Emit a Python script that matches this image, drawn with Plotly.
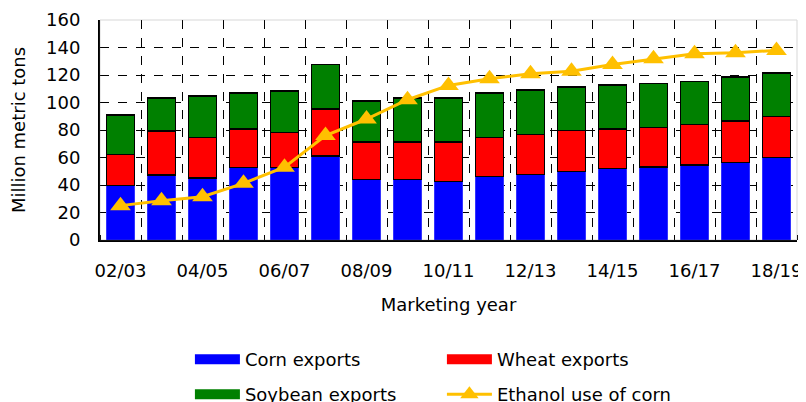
import plotly.graph_objects as go

years = ["02/03", "03/04", "04/05", "05/06", "06/07", "07/08", "08/09", "09/10", "10/11",
         "11/12", "12/13", "13/14", "14/15", "15/16", "16/17", "17/18", "18/19"]

# segment sizes of the stacked bars
corn = [39.5, 47.3, 45.2, 52.9, 52.9, 61.2, 43.9, 43.9, 42.7,
        46.3, 47.6, 49.7, 51.9, 53.2, 54.6, 56.5, 59.9]
wheat = [22.6, 32.1, 29.5, 27.7, 25.2, 34.2, 27.5, 27.5, 28.7,
         28.4, 29.3, 29.9, 28.7, 28.6, 29.4, 29.9, 29.9]
soybean = [28.9, 24.0, 29.9, 26.2, 30.1, 32.1, 29.8, 32.0, 32.0,
           32.1, 32.3, 31.8, 32.0, 32.0, 31.1, 32.0, 31.8]
ethanol = [25.0, 28.6, 31.5, 41.2, 52.9, 76.0, 88.0, 102.0, 112.4,
           117.3, 120.9, 122.8, 127.7, 131.8, 135.5, 136.2, 137.9]

tick_labels = years[::2]

FONT = "DejaVu Sans, Arial, sans-serif"
BLUE, RED, GREEN, GOLD = "#0000FF", "#FF0000", "#008000", "#FFC000"
x = list(range(len(years)))

fig = go.Figure()
fig.add_trace(go.Bar(
    x=x, y=corn, name="Corn exports", showlegend=False,
    marker=dict(color=BLUE, line=dict(color="#6666FF", width=0.5)),
))
fig.add_trace(go.Bar(
    x=x, y=wheat, name="Wheat exports", showlegend=False,
    marker=dict(color=RED, line=dict(color="black", width=1.5)),
))
fig.add_trace(go.Bar(
    x=x, y=soybean, name="Soybean exports", showlegend=False,
    marker=dict(color=GREEN, line=dict(color="black", width=1.5)),
))
fig.add_trace(go.Scatter(
    x=x, y=ethanol, name="Ethanol use of corn", mode="lines+markers",
    legend="legend2", legendrank=2000,
    line=dict(color=GOLD, width=3),
    marker=dict(symbol="triangle-up", size=18, color=GOLD),
))

# legend entries drawn as wide swatches, like the original
for name, color, leg in [("Corn exports", BLUE, "legend"),
                         ("Wheat exports", RED, "legend"),
                         ("Soybean exports", GREEN, "legend2")]:
    fig.add_trace(go.Scatter(
        x=[None], y=[None], name=name, mode="lines", legend=leg,
        legendrank=1000, line=dict(color=color, width=10),
    ))

legend_style = dict(
    orientation="h", x=0.129, xanchor="left", yref="container", yanchor="top",
    entrywidth=192, entrywidthmode="pixels", traceorder="normal",
    font=dict(size=18), itemwidth=45, bgcolor="rgba(0,0,0,0)",
)

# the page is drawn with an 8px body margin, so the figure is 8px smaller
fig.update_layout(
    width=798, height=394,
    barmode="stack", bargap=0.31,
    template="simple_white",
    font=dict(family=FONT, size=18, color="black"),
    margin=dict(l=92, r=9, t=12, b=162),
    plot_bgcolor="white", paper_bgcolor="white",
    legend=dict(legend_style, y=0.155),
    legend2=dict(legend_style, y=0.066),
    xaxis=dict(
        range=[-0.5, len(years) - 0.5],
        tickmode="array", tickvals=x[::2], ticktext=tick_labels,
        ticks="", showgrid=False, showline=True, linecolor="black", linewidth=2,
        ticklabelstandoff=13, ticklabeloverflow="allow", automargin=False,
        minor=dict(tick0=0.5, dtick=1, showgrid=True, griddash="dash",
                   gridcolor="black", gridwidth=1, ticks="inside", ticklen=5,
                   tickcolor="black"),
        title=dict(text="Marketing year", font=dict(size=18), standoff=19),
    ),
    yaxis=dict(
        range=[0, 160], dtick=20, ticks="", showgrid=True, griddash="dash",
        gridcolor="black", gridwidth=1, showline=True, linecolor="black",
        linewidth=2, ticklabelstandoff=14, automargin=False,
        title=dict(text="Million metric tons", font=dict(size=18), standoff=16),
    ),
)

# thin grey frame around the plot area
fig.add_shape(type="rect", xref="paper", yref="paper", x0=0, y0=0, x1=1, y1=1,
              line=dict(color="#808080", width=1), fillcolor="rgba(0,0,0,0)",
              layer="above")

fig.write_html("out.html")
